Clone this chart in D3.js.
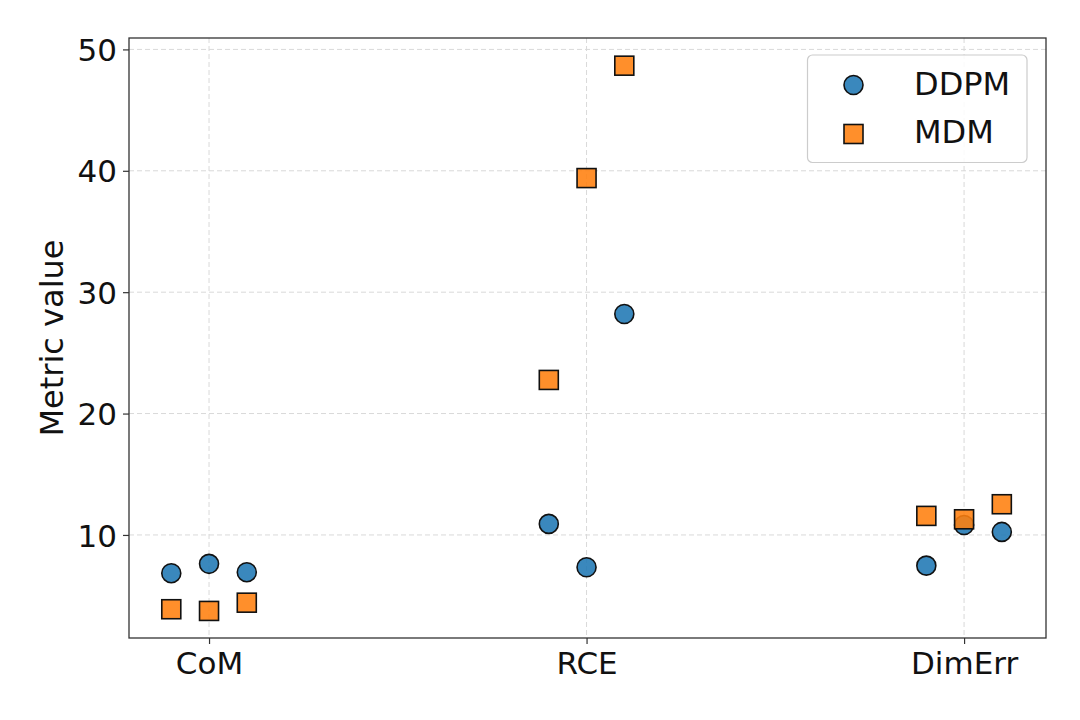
<!DOCTYPE html>
<html>
<head>
<meta charset="utf-8">
<script src="https://cdn.jsdelivr.net/npm/d3@7"></script>
<style>
  html, body { margin: 0; padding: 0; background: #fff; }
  svg { display: block; font-family: "DejaVu Sans", sans-serif; }
</style>
</head>
<body>
<svg id="chart" width="1080" height="720"></svg>
<script>
// ---- data ----
const categories = ["CoM", "RCE", "DimErr"];
const offsets = [-0.1, 0, 0.1];
const ddpmValues = [
  [6.85, 7.62, 6.93],
  [10.91, 7.34, 28.2],
  [7.47, 10.82, 10.25]
];
const mdmValues = [
  [3.88, 3.74, 4.42],
  [22.77, 39.4, 48.66],
  [11.57, 11.29, 12.53]
];
const yTicks = [10, 20, 30, 40, 50];
const seriesNames = ["DDPM", "MDM"];
const seriesColors = ["#1f77b4", "#ff7f0e"];

(function () {
// ---- layout ----
const svg = d3.select("#chart");
const pL = 129, pR = 1046, pT = 38, pB = 638;

const x = d3.scaleLinear().domain([-0.212, 2.217]).range([pL, pR]);
const y = d3.scaleLinear().domain([1.51, 50.94]).range([pB, pT]);

// grid
const grid = svg.append("g");
grid.selectAll("line.gy").data(yTicks).join("line").attr("class", "gy")
  .attr("x1", pL).attr("x2", pR)
  .attr("y1", d => y(d)).attr("y2", d => y(d))
  .attr("stroke", "#d9d9d9").attr("stroke-width", 1)
  .attr("stroke-dasharray", "5,3");
grid.selectAll("line.gx").data(categories).join("line").attr("class", "gx")
  .attr("x1", (d, i) => x(i)).attr("x2", (d, i) => x(i))
  .attr("y1", pT).attr("y2", pB)
  .attr("stroke", "#d9d9d9").attr("stroke-width", 1)
  .attr("stroke-dasharray", "5,3");

// axes
const yAxis = d3.axisLeft(y).tickValues(yTicks).tickSize(6).tickPadding(6);
const gy = svg.append("g").attr("transform", `translate(${pL},0)`).call(yAxis);
const xAxis = d3.axisBottom(x).tickValues([0, 1, 2]).tickFormat(i => categories[i]).tickSize(6).tickPadding(8);
const gx = svg.append("g").attr("transform", `translate(0,${pB})`).call(xAxis);
[gx, gy].forEach(g => {
  g.select(".domain").remove();
  g.selectAll(".tick line").attr("stroke", "#333").attr("stroke-width", 1.2);
  g.selectAll(".tick text").attr("fill", "#111").style("font-size", "31px")
    .style("font-family", "'DejaVu Sans', sans-serif");
});
gy.selectAll(".tick text").attr("dy", "0.36em");

// frame
svg.append("rect").attr("x", pL).attr("y", pT)
  .attr("width", pR - pL).attr("height", pB - pT)
  .attr("fill", "none").attr("stroke", "#333").attr("stroke-width", 1.3);

// y label
svg.append("text")
  .attr("transform", `translate(63,${(pT + pB) / 2}) rotate(-90)`)
  .attr("text-anchor", "middle")
  .style("font-size", "32px").attr("fill", "#111")
  .text("Metric value");

// points
const ms = 19;
const pts = svg.append("g");
function flat(vals) {
  const out = [];
  vals.forEach((row, ci) => row.forEach((v, j) => out.push({ xv: ci + offsets[j], v })));
  return out;
}
pts.selectAll("circle").data(flat(ddpmValues)).join("circle")
  .attr("cx", d => x(d.xv)).attr("cy", d => y(d.v)).attr("r", ms / 2)
  .attr("fill", seriesColors[0]).attr("fill-opacity", 0.88)
  .attr("stroke", "#111").attr("stroke-width", 1.6);
pts.selectAll("rect").data(flat(mdmValues)).join("rect")
  .attr("x", d => x(d.xv) - ms / 2).attr("y", d => y(d.v) - ms / 2)
  .attr("width", ms).attr("height", ms)
  .attr("fill", seriesColors[1]).attr("fill-opacity", 0.88)
  .attr("stroke", "#111").attr("stroke-width", 1.6);

// legend
const lg = svg.append("g");
lg.append("rect").attr("x", 807.5).attr("y", 55).attr("width", 219.5).attr("height", 107.5)
  .attr("rx", 5).attr("fill", "#fff").attr("fill-opacity", 0.85)
  .attr("stroke", "#cccccc").attr("stroke-width", 1.2);
lg.append("circle").attr("cx", 853.5).attr("cy", 85).attr("r", ms / 2)
  .attr("fill", seriesColors[0]).attr("fill-opacity", 0.88)
  .attr("stroke", "#111").attr("stroke-width", 1.6);
lg.append("rect").attr("x", 853.5 - ms / 2).attr("y", 134 - ms / 2).attr("width", ms).attr("height", ms)
  .attr("fill", seriesColors[1]).attr("fill-opacity", 0.88)
  .attr("stroke", "#111").attr("stroke-width", 1.6);
lg.selectAll("text").data(seriesNames).join("text")
  .attr("x", 914).attr("y", (d, i) => [94.5, 142.5][i])
  .style("font-size", "32px").attr("fill", "#111")
  .text(d => d);
})();
</script>
</body>
</html>
